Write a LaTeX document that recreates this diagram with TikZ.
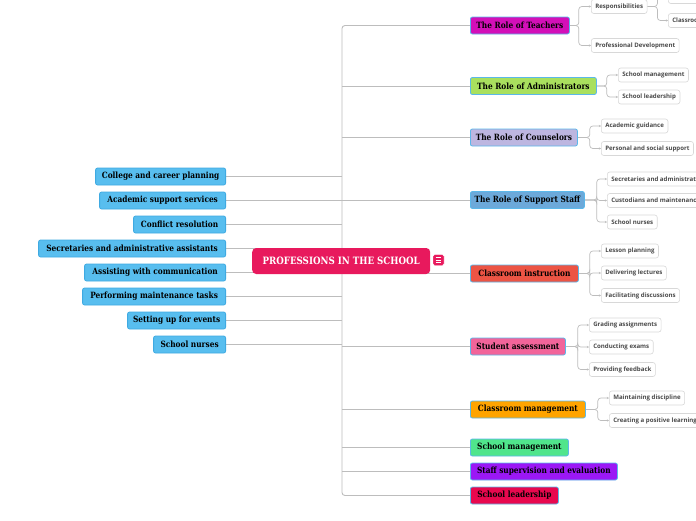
\documentclass[tikz,border=0pt]{standalone}
\usepackage{fontspec}
\setmainfont{DejaVu Serif}
\newfontfamily\slab{DejaVu Serif}[FakeStretch=0.86]
\newfontfamily\subf{Open Sans}
\usetikzlibrary{arrows.meta,backgrounds}
\definecolor{cpink}{HTML}{E8195D}
\definecolor{mborder}{HTML}{5BB8EA}
\definecolor{lfill}{HTML}{58BEEF}
\definecolor{lborder}{HTML}{3FAAE2}
\definecolor{sborder}{HTML}{D8D8D8}
\definecolor{stext}{HTML}{4A4A4A}
\definecolor{conncol}{HTML}{BDBDBD}
\definecolor{cteach}{HTML}{D30FB8}
\definecolor{cadmin}{HTML}{A9E05E}
\definecolor{ccouns}{HTML}{BDB6E0}
\definecolor{csupp}{HTML}{6CA9DA}
\definecolor{cinstr}{HTML}{EC5444}
\definecolor{cassess}{HTML}{F2649A}
\definecolor{ccman}{HTML}{FFA400}
\definecolor{csman}{HTML}{50E58C}
\definecolor{cstaff}{HTML}{9B18F5}
\definecolor{clead}{HTML}{E8084E}
\tikzset{
  mainbox/.style={draw=mborder, line width=0.8pt, rounded corners=2pt, anchor=west,
    minimum height=17pt, inner sep=0pt, text=black,
    font=\slab\bfseries\fontsize{8.6}{9}\selectfont},
  leftbox/.style={mainbox, anchor=east, fill=lfill, draw=lborder},
  subbox/.style={draw=sborder, fill=white, line width=0.6pt, rounded corners=2.5pt,
    anchor=west, minimum height=14pt, inner ysep=0pt, inner xsep=4pt, text=stext,
    font=\subf\bfseries\fontsize{6.1}{7}\selectfont},
  conn/.style={draw=conncol, line width=0.9pt, rounded corners=3pt},
  subconn/.style={draw=conncol, line width=0.7pt, rounded corners=3pt,
    -{Stealth[length=2pt,width=2pt]}},
}
\begin{document}
\begin{tikzpicture}[x=1pt,y=-1pt]
\useasboundingbox (0,0) rectangle (696,520);
% central
\node[fill=cpink, rounded corners=4pt, minimum width=178pt, minimum height=26pt,
  anchor=west, inner sep=0pt, text=white, font=\slab\bfseries\fontsize{10.1}{11}\selectfont]
  (root) at (252,261) {PROFESSIONS IN THE SCHOOL};
\node[fill=cpink, draw=white, line width=0.4pt, rounded corners=1.5pt, minimum size=11pt, inner sep=0pt] (icon) at (438.5,260) {};
\draw[white, line width=0.6pt] ([xshift=-2.8pt,yshift=2.3pt]icon.center) -- ++(5.6pt,0)
  ([xshift=-2.8pt]icon.center) -- ++(5.6pt,0)
  ([xshift=-2.8pt,yshift=-2.3pt]icon.center) -- ++(5.6pt,0);
\coordinate (trunk) at (342,261);
% right main nodes
\node[mainbox, fill=cteach, minimum width=99pt] (teach) at (470,25.5) {The Role of Teachers};
\node[mainbox, fill=cadmin, minimum width=126pt] (admin) at (470,86) {The Role of Administrators};
\node[mainbox, fill=ccouns, minimum width=107pt] (couns) at (470,137.5) {The Role of Counselors};
\node[mainbox, fill=csupp, minimum width=114pt] (supp) at (470,200) {The Role of Support Staff};
\node[mainbox, fill=cinstr, minimum width=108pt] (instr) at (470,273.5) {Classroom instruction};
\node[mainbox, fill=cassess, minimum width=95pt] (assess) at (470,346.5) {Student assessment};
\node[mainbox, fill=ccman, minimum width=115pt] (cman) at (470,409.5) {Classroom management};
\node[mainbox, fill=csman, minimum width=98pt] (sman) at (470,447.5) {School management};
\node[mainbox, fill=cstaff, minimum width=147pt] (staff) at (470,471.5) {Staff supervision and evaluation};
\node[mainbox, fill=clead, minimum width=88pt] (lead) at (470,495.5) {School leadership};
% left nodes
\node[leftbox, minimum width=130pt] (college) at (226,176.5) {College and career planning};
\node[leftbox, minimum width=126pt] (academic) at (226,200.5) {Academic support services};
\node[leftbox, minimum width=92pt] (conflict) at (226,224.5) {Conflict resolution};
\node[leftbox, minimum width=187pt] (secret) at (226,248.5) {Secretaries and administrative assistants};
\node[leftbox, minimum width=141pt] (assist) at (226,272.5) {Assisting with communication};
\node[leftbox, minimum width=143pt] (perform) at (226,296.5) {Performing maintenance tasks};
\node[leftbox, minimum width=98pt] (setting) at (226,320.5) {Setting up for events};
\node[leftbox, minimum width=72pt] (nurses) at (226,344.5) {School nurses};
% sub nodes
\node[subbox] (resp) at (591,6.5) {Responsibilities};
\node[subbox] (prof) at (591,45.5) {Professional Development};
\node[subbox] (rone) at (668,-3.5) {Instruction};
\node[subbox] (rtwo) at (668,20.5) {Classroom management};
\node[subbox] (smg) at (618,75) {School management};
\node[subbox] (sld) at (618,97) {School leadership};
\node[subbox] (acg) at (601,126) {Academic guidance};
\node[subbox] (pss) at (601,148.5) {Personal and social support};
\node[subbox] (sec) at (607,179) {Secretaries and administrative assistants};
\node[subbox] (cus) at (607,200.5) {Custodians and maintenance staff};
\node[subbox] (snu) at (607,222) {School nurses};
\node[subbox] (les) at (601,251) {Lesson planning};
\node[subbox] (del) at (601,273) {Delivering lectures};
\node[subbox] (fac) at (601,295.5) {Facilitating discussions};
\node[subbox] (gra) at (589,325) {Grading assignments};
\node[subbox] (con) at (589,347) {Conducting exams};
\node[subbox] (pro) at (589,369.5) {Providing feedback};
\node[subbox] (mai) at (609,398) {Maintaining discipline};
\node[subbox] (cre) at (609,420.5) {Creating a positive learning environment};
\begin{pgfonlayer}{background}
\fill[white] (0,0) rectangle (696,520);
\draw[conn] (teach.west) -| (trunk) |- (lead.west);
\foreach \n in {admin,couns,supp,instr,assess,cman,sman,staff}
  \draw[conn] (\n.west) -- (\n.west -| trunk);
\foreach \n in {college,academic,conflict,secret,assist,perform,setting,nurses}
  \draw[conn] (\n.east) -- (\n.east -| trunk);
\draw[subconn] (teach.east) -- ++(9,0) |- (resp.west);
\draw[subconn] (teach.east) -- ++(9,0) |- (prof.west);
\draw[subconn] (resp.east) -- ++(10,0) |- (rone.west);
\draw[subconn] (resp.east) -- ++(10,0) |- (rtwo.west);
\draw[subconn] (admin.east) -- ++(10,0) |- (smg.west);
\draw[subconn] (admin.east) -- ++(10,0) |- (sld.west);
\draw[subconn] (couns.east) -- ++(12,0) |- (acg.west);
\draw[subconn] (couns.east) -- ++(12,0) |- (pss.west);
\draw[subconn] (supp.east) -- ++(12,0) |- (sec.west);
\draw[subconn] (supp.east) -- ++(12,0) |- (cus.west);
\draw[subconn] (supp.east) -- ++(12,0) |- (snu.west);
\draw[subconn] (instr.east) -- ++(11,0) |- (les.west);
\draw[subconn] (instr.east) -- ++(11,0) |- (del.west);
\draw[subconn] (instr.east) -- ++(11,0) |- (fac.west);
\draw[subconn] (assess.east) -- ++(12,0) |- (gra.west);
\draw[subconn] (assess.east) -- ++(12,0) |- (con.west);
\draw[subconn] (assess.east) -- ++(12,0) |- (pro.west);
\draw[subconn] (cman.east) -- ++(12,0) |- (mai.west);
\draw[subconn] (cman.east) -- ++(12,0) |- (cre.west);
\end{pgfonlayer}
\end{tikzpicture}
\end{document}
